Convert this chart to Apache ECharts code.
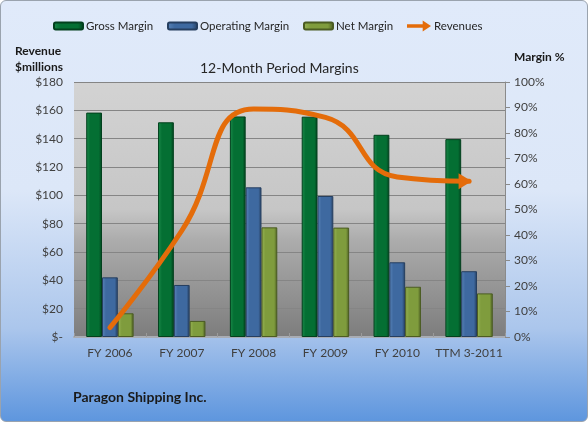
<!DOCTYPE html>
<html>
<head>
<meta charset="utf-8">
<script src="https://cdn.jsdelivr.net/npm/echarts@6/dist/echarts.min.js"></script>
<style>
  html, body { margin: 0; padding: 0; }
  #chart {
    width: 586px; height: 420px;
    border: 1px solid #9aa3ae; border-radius: 6px; overflow: hidden;
    background: linear-gradient(#e0eafa 0%, #dce7f8 45%, #abc6ec 78%, #5e96de 100%);
  }
</style>
</head>
<body>
<div id="chart"></div>
<script>
// periods on the category axis
var periods = ['FY 2006', 'FY 2007', 'FY 2008', 'FY 2009', 'FY 2010', 'TTM 3-2011'];
// margins in %, right axis
var grossMargin = [88.0, 84.2, 86.5, 86.4, 79.3, 77.6];
var operatingMargin = [23.4, 20.4, 58.7, 55.3, 29.3, 25.8];
var netMargin = [9.3, 6.3, 43.0, 42.9, 19.7, 17.1];
// revenues in $ millions, left axis
var revenues = [6.6, 75, 161, 155, 113, 110];

var FONT = 'Lato, "Open Sans", sans-serif';
var TXT = '#404040';

function barStyle(light, mid, dark) {
  return {
    color: new echarts.graphic.LinearGradient(0, 0, 1, 0, [
      { offset: 0, color: light }, { offset: 0.25, color: mid },
      { offset: 0.8, color: mid }, { offset: 1, color: dark }
    ]),
    borderColor: dark, borderWidth: 1
  };
}

// last revenue point carries the arrow head
var revData = revenues.map(function (v, i) {
  if (i < revenues.length - 1) return v;
  return {
    value: v, symbol: 'path://M0,0 L10,5 L0,10 Z', symbolKeepAspect: false,
    symbolSize: [13, 16], symbolOffset: [-4, 0],
    itemStyle: { color: '#e46c0a' }
  };
});

function legendAt(x, name, icon, w, h) {
  var item = { name: name };
  if (icon) item.icon = icon;
  return {
    left: x, top: 14, data: [item], itemWidth: w, itemHeight: h,
    itemGap: 0, textStyle: { fontFamily: FONT, fontSize: 11.5, color: '#262626', padding: [0, 0, 0, -2] }
  };
}

var chart = echarts.init(document.getElementById('chart'), null, { renderer: 'canvas' });
chart.setOption({
  backgroundColor: 'transparent',
  animation: false,
  textStyle: { fontFamily: FONT },
  legend: [
    legendAt(47, 'Gross Margin', null, 29, 7),
    legendAt(161, 'Operating Margin', null, 29, 7),
    legendAt(297, 'Net Margin', null, 29, 7),
    legendAt(401, 'Revenues', 'path://M0,4 L17,4 L17,0 L26,6 L17,12 L17,8 L0,8 Z', 24, 12)
  ],
  graphic: [
    { type: 'text', left: 199, top: 60, style: { text: '12-Month Period Margins', font: '14px ' + FONT, fill: '#262626' } },
    { type: 'text', left: 14, top: 42, style: { text: 'Revenue\n$millions', font: 'bold 12px ' + FONT, fill: '#1a1a1a', lineHeight: 16 } },
    { type: 'text', left: 513, top: 50, style: { text: 'Margin %', font: 'bold 12px ' + FONT, fill: '#1a1a1a' } },
    { type: 'text', left: 72, top: 389, style: { text: 'Paragon Shipping Inc.', font: 'bold 14px ' + FONT, fill: '#1a1a1a' } }
  ],
  grid: {
    left: 73, right: 82, top: 81, bottom: 84, show: true, borderWidth: 0,
    backgroundColor: new echarts.graphic.LinearGradient(0, 0, 0, 1, [
      { offset: 0, color: '#d3d3d3' }, { offset: 0.5, color: '#c6c6c6' },
      { offset: 0.62, color: '#acacac' }, { offset: 1, color: '#7d7d7d' }
    ])
  },
  xAxis: {
    type: 'category', data: periods,
    axisLine: { lineStyle: { color: '#a9adb4', width: 2 } },
    axisTick: { show: true, inside: true, length: 4, lineStyle: { color: '#9a9a9a' } },
    axisLabel: { color: TXT, fontSize: 12, margin: 10, interval: 0 }
  },
  yAxis: [
    {
      type: 'value', min: 0, max: 180, interval: 20, position: 'left',
      axisLine: { show: false }, axisTick: { show: false },
      axisLabel: { color: TXT, fontSize: 12, margin: 11, formatter: function (v) { return v === 0 ? '$-' : '$' + v; } },
      splitLine: { lineStyle: { color: '#858585', width: 1 } }
    },
    {
      type: 'value', min: 0, max: 100, interval: 10, position: 'right',
      axisLine: { show: true, lineStyle: { color: '#8a8a8a' } },
      axisTick: { show: true, length: 5, lineStyle: { color: '#8a8a8a' } },
      axisLabel: { color: TXT, fontSize: 12, margin: 9, formatter: '{value}%' },
      splitLine: { show: false }
    }
  ],
  series: [
    { name: 'Gross Margin', type: 'bar', yAxisIndex: 1, data: grossMargin, barGap: '0%', barCategoryGap: '34%',
      itemStyle: barStyle('#1b8a4a', '#046f33', '#02401d') },
    { name: 'Operating Margin', type: 'bar', yAxisIndex: 1, data: operatingMargin,
      itemStyle: barStyle('#5a84b8', '#3e69a0', '#263f60') },
    { name: 'Net Margin', type: 'bar', yAxisIndex: 1, data: netMargin,
      itemStyle: barStyle('#98b455', '#7f9c3d', '#4b5c22') },
    { name: 'Revenues', type: 'line', yAxisIndex: 0, data: revData, smooth: 0.5, z: 5,
      symbol: 'none', showSymbol: true, showAllSymbol: true,
      lineStyle: { color: '#e46c0a', width: 5, cap: 'round' },
      itemStyle: { color: '#e46c0a' } }
  ]
});
</script>
</body>
</html>
